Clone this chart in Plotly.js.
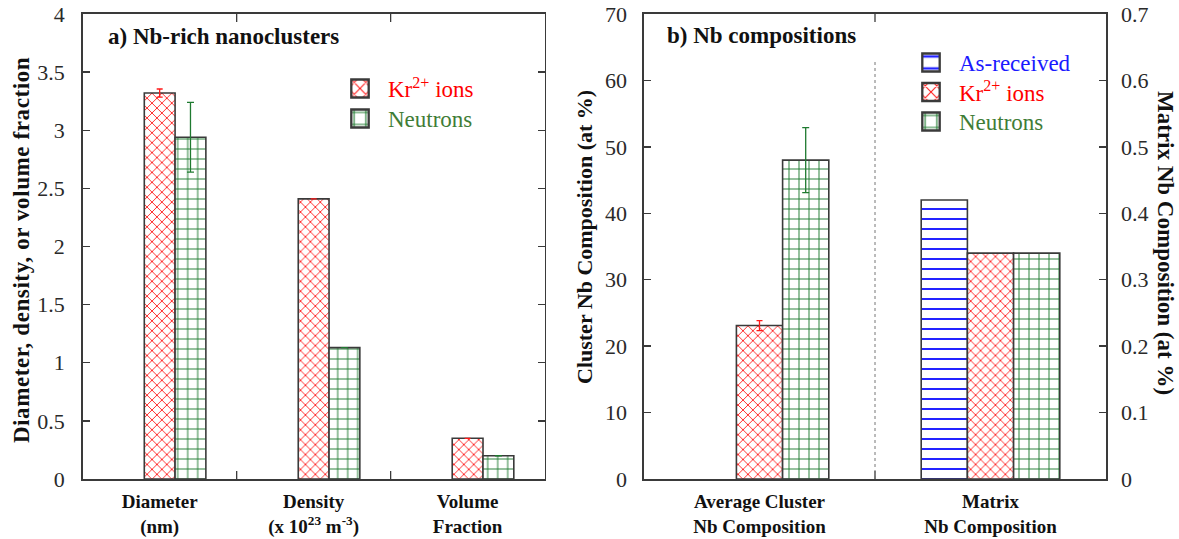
<!DOCTYPE html>
<html>
<head>
<meta charset="utf-8">
<script src="https://cdn.plot.ly/plotly-3.0.1.min.js"></script>
<style>
  html, body { margin: 0; padding: 0; background: #fff; }
  #chart { width: 1179px; height: 539px; }
</style>
</head>
<body>
<div id="chart"></div>
<script>
// Panel a: Nb-rich nanocluster statistics
const groupsA = ['Diameter<br>(nm)', 'Density<br>(x 10<sup>23</sup> m<sup>-3</sup>)', 'Volume<br>Fraction'];
const krA = [3.32, 2.41, 0.35];
const krAErr = [0.035, null, null];
const neutronA = [2.94, 1.13, 0.2];
const neutronAErr = [0.3, null, null];
const asReceivedA = [null, null, null];

// Panel b: Nb compositions (cluster on left axis, matrix on right axis)
const groupsB = ['Average Cluster<br>Nb Composition', 'Matrix<br>Nb Composition'];
const clusterKr = [23.1, null];
const clusterKrErr = [0.75, null];
const clusterNeutron = [48.0, null];
const clusterNeutronErr = [4.9, null];
const matrixAsReceived = [null, 0.42];
const matrixKr = [null, 0.34];
const matrixNeutron = [null, 0.34];

const yTicksA = [0, 0.5, 1, 1.5, 2, 2.5, 3, 3.5, 4];
const yTickTextA = ['0', '0.5', '1', '1.5', '2', '2.5', '3', '3.5', '4'];
const yTicksB = [0, 10, 20, 30, 40, 50, 60, 70];
const yTicksB2 = [0, 0.1, 0.2, 0.3, 0.4, 0.5, 0.6, 0.7];
const yTickTextB2 = ['0', '0.1', '0.2', '0.3', '0.4', '0.5', '0.6', '0.7'];

const SERIF = '"Liberation Serif", "Times New Roman", Times, serif';
const RED = '#ff1a1a';
const GREEN = '#1f7a30';
const BLUE = '#2424ff';
const EDGE = '#3a3a3a';

const patKr = { shape: 'x', fgcolor: RED, bgcolor: '#ffffff', size: 7, solidity: 0.24 };
const patNeu = { shape: '+', fgcolor: GREEN, bgcolor: '#ffffff', size: 10, solidity: 0.18 };
const patAsr = { shape: '-', fgcolor: BLUE, bgcolor: '#ffffff', size: 10, solidity: 0.2 };

const W = 0.2;
function bar(x, y, opts) {
  return Object.assign({
    type: 'bar', x: x, y: y, width: W,
    marker: { color: '#ffffff', line: { color: EDGE, width: 1.6 }, pattern: opts.pattern },
    hoverinfo: 'skip'
  }, opts.extra);
}
function err(arr, color, w) {
  return { type: 'data', array: arr, visible: true, color: color, thickness: 1.3, width: w };
}

const nameAsr = '<span style="color:#1a1aff">As-received</span>';
const nameKr = '<span style="color:#ff0000">Kr<sup>2+</sup> ions</span>';
const nameNeu = '<span style="color:#3f7d36">Neutrons</span>';

const traces = [
  // panel a
  bar(groupsA, asReceivedA, { pattern: patAsr, extra: { offset: -0.3, xaxis: 'x', yaxis: 'y', showlegend: false } }),
  bar(groupsA, krA, { pattern: patKr, extra: { offset: -0.1, xaxis: 'x', yaxis: 'y', name: nameKr, legend: 'legend',
    error_y: err(krAErr, RED, 3) } }),
  bar(groupsA, neutronA, { pattern: patNeu, extra: { offset: 0.1, xaxis: 'x', yaxis: 'y', name: nameNeu, legend: 'legend',
    error_y: err(neutronAErr, GREEN, 3.5) } }),
  // panel b, matrix values on the right-hand axis
  bar(groupsB, matrixAsReceived, { pattern: patAsr, extra: { offset: -0.3, xaxis: 'x2', yaxis: 'y3', name: nameAsr, legend: 'legend2', legendrank: 1 } }),
  bar(groupsB, matrixKr, { pattern: patKr, extra: { offset: -0.1, xaxis: 'x2', yaxis: 'y3', showlegend: false } }),
  bar(groupsB, matrixNeutron, { pattern: patNeu, extra: { offset: 0.1, xaxis: 'x2', yaxis: 'y3', showlegend: false } }),
  // panel b, cluster values on the left-hand axis
  bar(groupsB, clusterKr, { pattern: patKr, extra: { offset: -0.1, xaxis: 'x2', yaxis: 'y2', name: nameKr, legend: 'legend2', legendrank: 2,
    error_y: err(clusterKrErr, RED, 3) } }),
  bar(groupsB, clusterNeutron, { pattern: patNeu, extra: { offset: 0.1, xaxis: 'x2', yaxis: 'y2', name: nameNeu, legend: 'legend2', legendrank: 3,
    error_y: err(clusterNeutronErr, GREEN, 3.5) } })
];

const H = 539, WD = 1179;
const px = v => v / WD;
const py = v => (H - v) / H;

const yDom = [py(479), py(14)];
const tickFont = { family: SERIF, size: 22, color: '#2a2a2a' };
const catFont = { family: SERIF, size: 19, color: '#111', weight: 'bold' };
const titleFont = { family: SERIF, size: 23, color: '#111' };

const axisCommon = {
  showline: true, linecolor: EDGE, linewidth: 1.6,
  tickcolor: EDGE, tickwidth: 1.3,
  showgrid: false, zeroline: false, fixedrange: true
};

// short inward tick marks at the group boundaries (top and bottom frame)
const TL = 8 / 465;
function boundaryTicks(xref, yref, positions) {
  const out = [];
  positions.forEach(function (b) {
    out.push({ type: 'line', xref: xref, yref: yref, x0: b, x1: b, y0: 0, y1: TL, line: { color: EDGE, width: 1.3 } });
    out.push({ type: 'line', xref: xref, yref: yref, x0: b, x1: b, y0: 1 - TL, y1: 1, line: { color: EDGE, width: 1.3 } });
  });
  return out;
}

const layout = {
  width: WD, height: H,
  margin: { l: 0, r: 0, t: 0, b: 0 },
  paper_bgcolor: '#ffffff', plot_bgcolor: '#ffffff',
  barmode: 'overlay',
  showlegend: true,
  font: { family: SERIF, color: '#111' },
  xaxis: Object.assign({}, axisCommon, {
    domain: [px(82.7), px(544.6)], anchor: 'y', type: 'category',
    range: [-0.5, 2.5], ticks: '', mirror: true,
    tickfont: catFont, ticklabelstandoff: 5
  }),
  yaxis: Object.assign({}, axisCommon, {
    domain: yDom, anchor: 'x', range: [0, 4], ticks: 'inside',
    tickmode: 'array', tickvals: yTicksA, ticktext: yTickTextA,
    ticklen: 7, mirror: 'allticks', tickfont: tickFont, ticklabelstandoff: 12
  }),
  xaxis2: Object.assign({}, axisCommon, {
    domain: [px(644), px(1106)], anchor: 'y2', type: 'category',
    range: [-0.5, 1.5], ticks: '', mirror: true,
    tickfont: catFont, ticklabelstandoff: 5
  }),
  yaxis2: Object.assign({}, axisCommon, {
    domain: yDom, anchor: 'x2', range: [0, 70], ticks: 'inside',
    tickmode: 'array', tickvals: yTicksB,
    ticklen: 7, tickfont: tickFont, ticklabelstandoff: 11
  }),
  yaxis3: Object.assign({}, axisCommon, {
    overlaying: 'y2', side: 'right', anchor: 'x2', range: [0, 0.7], ticks: 'inside',
    tickmode: 'array', tickvals: yTicksB2, ticktext: yTickTextB2,
    ticklen: 7, tickfont: tickFont, ticklabelstandoff: 9
  }),
  legend: {
    x: px(348), y: py(67), xanchor: 'left', yanchor: 'top',
    bgcolor: 'rgba(0,0,0,0)', borderwidth: 0,
    font: { family: SERIF, size: 23 }, tracegroupgap: 0, itemclick: false
  },
  legend2: {
    x: px(919), y: py(41), xanchor: 'left', yanchor: 'top',
    bgcolor: 'rgba(0,0,0,0)', borderwidth: 0, traceorder: 'normal',
    font: { family: SERIF, size: 23 }, tracegroupgap: 0, itemclick: false
  },
  shapes: boundaryTicks('x', 'y domain', [0.5, 1.5])
    .concat(boundaryTicks('x2', 'y2 domain', [0.5]))
    .concat([
      // separator between cluster and matrix groups
      { type: 'line', xref: 'x2', yref: 'y2', x0: 0.5, x1: 0.5, y0: 0, y1: 63,
        line: { color: '#777', width: 1, dash: 'dot' } }
    ]),
  annotations: [
    { text: '<b>a) Nb-rich nanoclusters</b>', xref: 'paper', yref: 'paper', x: px(106), y: py(37),
      xanchor: 'left', yanchor: 'middle', showarrow: false, font: titleFont },
    { text: '<b>b) Nb compositions</b>', xref: 'paper', yref: 'paper', x: px(665), y: py(35),
      xanchor: 'left', yanchor: 'middle', showarrow: false, font: titleFont },
    { text: '<b>Diameter, density, or volume fraction</b>', xref: 'paper', yref: 'paper', x: px(21), y: py(250),
      xanchor: 'center', yanchor: 'middle', textangle: -90, showarrow: false, font: titleFont },
    { text: '<b>Cluster Nb Composition (at %)</b>', xref: 'paper', yref: 'paper', x: px(584), y: py(237),
      xanchor: 'center', yanchor: 'middle', textangle: -90, showarrow: false,
      font: { family: SERIF, size: 22, color: '#111' } },
    { text: '<b>Matrix Nb Composition (at %)</b>', xref: 'paper', yref: 'paper', x: px(1166), y: py(243),
      xanchor: 'center', yanchor: 'middle', textangle: 90, showarrow: false, font: titleFont }
  ]
};

Plotly.newPlot('chart', traces, layout, { staticPlot: true, displayModeBar: false }).then(function () {
  // enlarge the legend swatches to match the patterned boxes
  document.querySelectorAll('.legendpoints path').forEach(function (p) {
    const t = p.getAttribute('transform') || '';
    p.setAttribute('transform', 'translate(-17,0) scale(1.45,1.5) ' + t);
  });
  // even row spacing in both legends
  [['legend', 30], ['legend2', 29.5]].forEach(function (cfg) {
    const lg = document.querySelector('g.' + cfg[0]);
    if (!lg) return;
    const rows = lg.querySelectorAll('g.traces');
    let y0 = null;
    rows.forEach(function (row, i) {
      const m = /translate\(\s*([-\d.e]+)[\s,]+([-\d.e]+)\s*\)/.exec(row.getAttribute('transform') || '');
      if (!m) return;
      if (y0 === null) y0 = parseFloat(m[2]);
      row.setAttribute('transform', 'translate(' + m[1] + ',' + (y0 + i * cfg[1]) + ')');
    });
  });
  // the left-panel axis title is set slightly letter-spaced
  document.querySelectorAll('.annotation-text').forEach(function (t) {
    if (t.textContent.indexOf('Diameter, density') === 0) t.style.letterSpacing = '0.6px';
  });
});
</script>
</body>
</html>
